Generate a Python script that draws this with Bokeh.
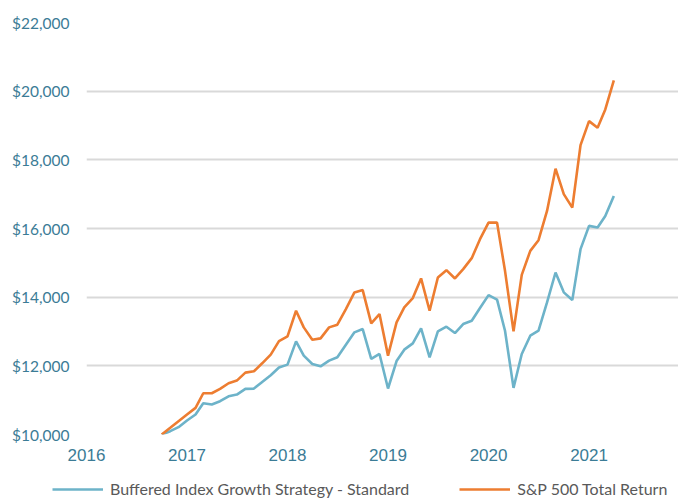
import pandas as pd
from bokeh.plotting import figure
from bokeh.layouts import column, row
from bokeh.models import (ColumnDataSource, Range1d, FixedTicker, NumeralTickFormatter,
                          Legend, LegendItem)
from bokeh.embed import file_html
from bokeh.resources import INLINE

# Month-end dates, Sep 2016 .. Mar 2021
dates = pd.date_range("2016-09-30", periods=55, freq="ME")

buffered = [10000, 10097, 10213, 10407, 10581, 10911, 10872, 10969, 11114, 11163,
            11328, 11337, 11531, 11725, 11950, 12035, 12713, 12297, 12055, 11986,
            12151, 12248, 12616, 12975, 13072, 12200, 12345, 11340, 12140, 12471,
            12655, 13091, 12248, 13004, 13140, 12956, 13217, 13314, 13682, 14060,
            13930, 13023, 11357, 12345, 12878, 13023, 13846, 14719, 14140, 13915,
            15398, 16076, 16027, 16366, 16948]

sp500 = [10000, 10195, 10388, 10581, 10775, 11202, 11202, 11327, 11492, 11570,
         11802, 11841, 12074, 12326, 12720, 12858, 13605, 13120, 12762, 12800,
         13120, 13198, 13653, 14137, 14206, 13237, 13508, 12297, 13266, 13702,
         13973, 14545, 13605, 14574, 14787, 14545, 14816, 15136, 15688, 16172,
         16172, 14767, 13004, 14651, 15349, 15659, 16512, 17742, 17000, 16608,
         18430, 19128, 18934, 19467, 20311]

year_ticks = [2016, 2017, 2018, 2019, 2020, 2021]
year_labels = ["2016", "2017", "2018", "2019", "2020", "2021"]
y_ticks = [10000, 12000, 14000, 16000, 18000, 20000, 22000]

series_names = ["Buffered Index Growth Strategy - Standard", "S&P 500 Total Return"]
series_colors = ["#6DB3C9", "#ED7D31"]

xfrac = [d.year + (d.dayofyear) / (366 if d.is_leap_year else 365) for d in dates]

src = ColumnDataSource(dict(x=xfrac, buf=buffered, sp=sp500))

p = figure(width=678, height=472, output_backend="svg", toolbar_location=None,
           x_range=Range1d(2016, 2021.89), y_range=Range1d(10000, 22000),
           min_border_left=86, min_border_right=0, min_border_top=22,
           min_border_bottom=38)
p.outline_line_color = None
p.background_fill_color = "white"
p.border_fill_color = "white"

p.line("x", "buf", source=src, line_color=series_colors[0], line_width=2.6)
p.line("x", "sp", source=src, line_color=series_colors[1], line_width=2.6)

# axes
p.xaxis.ticker = FixedTicker(ticks=year_ticks)
p.xaxis.major_label_overrides = {t: l for t, l in zip(year_ticks, year_labels)}
p.yaxis.ticker = FixedTicker(ticks=y_ticks)
p.yaxis.formatter = NumeralTickFormatter(format="$0,0")
for ax in (p.xaxis[0], p.yaxis[0]):
    ax.axis_line_color = None
    ax.major_tick_line_color = None
    ax.minor_tick_line_color = None
    ax.major_tick_out = 0
    ax.major_label_text_color = "#3B7C96"
p.xaxis.major_label_text_font = "Liberation Sans"
p.xaxis.major_label_text_font_size = "17px"
p.xaxis.major_label_standoff = 14
p.yaxis.major_label_text_font = "Lato"
p.yaxis.major_label_text_font_size = "15.5px"
p.yaxis.major_label_standoff = 17

p.xgrid.grid_line_color = None
p.ygrid.grid_line_color = "#D9D9D9"
p.ygrid.grid_line_width = 2

# legend strip below the chart (series drawn off-range, only legend visible)
pl = figure(width=678, height=26, output_backend="svg", toolbar_location=None,
            x_range=Range1d(0, 1), y_range=Range1d(0, 1),
            x_axis_type=None, y_axis_type=None,
            min_border_left=0, min_border_right=0, min_border_top=0,
            min_border_bottom=0)
pl.outline_line_color = None
pl.xgrid.visible = False
pl.ygrid.visible = False
l1 = pl.line("x", "buf", source=src, line_color=series_colors[0], line_width=2.6)
l2 = pl.line("x", "sp", source=src, line_color=series_colors[1], line_width=2.6)

legend = Legend(items=[LegendItem(label=series_names[0], renderers=[l1]),
                       LegendItem(label=series_names[1], renderers=[l2])],
                location=(52, 0), orientation="horizontal",
                glyph_width=51, glyph_height=16, label_height=16,
                label_standoff=7, spacing=50,
                padding=0, margin=0, border_line_color=None,
                background_fill_alpha=0,
                label_text_font="Lato", label_text_font_size="16px",
                label_text_color="#595959")
pl.add_layout(legend, "center")

layout = column(p, row(pl), spacing=0)
open("out.html", "w").write(file_html(layout, INLINE))
